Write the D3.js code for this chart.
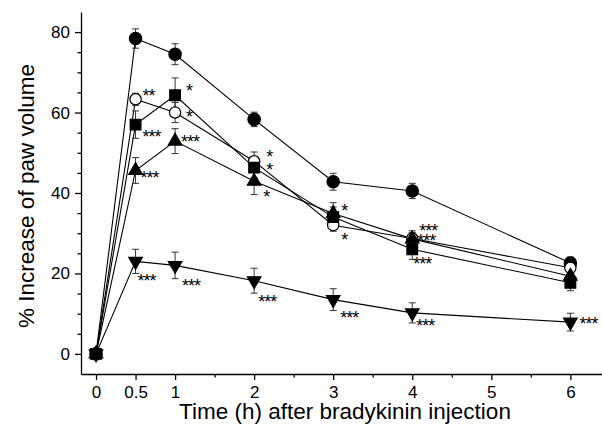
<!DOCTYPE html>
<html>
<head>
<meta charset="utf-8">
<script src="https://cdn.jsdelivr.net/npm/d3@7"></script>
<style>
  body { margin: 0; background: #fff; }
  svg { display: block; font-family: Arial, "Liberation Sans", sans-serif; }
</style>
</head>
<body>
<svg id="chart" width="602" height="433"></svg>
<script>
// time points (h)
var times = [0, 0.5, 1, 2, 3, 4, 6];

// mean % increase of paw volume per group
var filledCircleVals = [0, 78.4, 74.5, 58.3, 42.8, 40.5, 22.6];
var openCircleVals   = [0, 63.3, 60.0, 47.9, 32.0, 28.7, 21.4];
var squareVals       = [0, 57.0, 64.3, 46.3, 34.0, 26.0, 17.7];
var triangleUpVals   = [0, 45.6, 52.9, 42.9, 34.9, 28.6, 19.3];
var triangleDownVals = [0, 23.0, 22.0, 18.2, 13.5, 10.2, 7.9];

// error (SEM)
var filledCircleErr = [0, 2.4, 2.6, 1.8, 2.1, 1.9, 1.5];
var openCircleErr   = [0, 1.5, 2.5, 2.3, 1.5, 1.5, 1.2];
var squareErr       = [0, 3.4, 4.3, 2.5, 2.5, 2.5, 2.0];
var triangleUpErr   = [0, 3.2, 3.1, 3.3, 2.7, 2.0, 1.5];
var triangleDownErr = [0, 3.0, 3.3, 3.1, 2.7, 2.5, 2.2];

// significance marks per group and time
var openCircleStars   = ["", "**", "*", "*", "*", "***", ""];
var squareStars       = ["", "***", "*", "*", "", "***", ""];
var triangleUpStars   = ["", "***", "***", "*", "*", "***", ""];
var triangleDownStars = ["", "***", "***", "***", "***", "***", "***"];

// axis ticks
var xMajorTicks = [0, 0.5, 1, 2, 3, 4, 5, 6];
var xMinorTicks = [1.5, 2.5, 3.5, 4.5, 5.5];
var yMajorTicks = [0, 20, 40, 60, 80];
var yMinorTicks = [5, 10, 15, 25, 30, 35, 45, 50, 55, 65, 70, 75];

function drawChart() {
    var svg = d3.select("#chart");

    var x = d3.scaleLinear().domain([-0.19, 6.4]).range([81, 602]);
    var y = d3.scaleLinear().domain([-5, 85]).range([374, 12]);

    // axes
    svg.append("g")
        .attr("transform", "translate(0,374)")
        .call(d3.axisBottom(x).tickValues(xMinorTicks).tickSize(3.5).tickSizeOuter(0).tickFormat(""))
        .call(g => g.select(".domain").remove());
    var xAxis = svg.append("g")
        .attr("transform", "translate(0,374)")
        .call(d3.axisBottom(x).tickValues(xMajorTicks).tickSize(6).tickSizeOuter(0).tickPadding(6)
            .tickFormat(d => d === 0.5 ? "0.5" : d3.format("d")(d)));
    xAxis.selectAll("text").attr("font-size", 17).attr("fill", "#000").attr("font-family", "Arial, 'Liberation Sans', sans-serif");

    svg.append("g")
        .attr("transform", "translate(81,0)")
        .call(d3.axisLeft(y).tickValues(yMinorTicks).tickSize(3.5).tickSizeOuter(0).tickFormat(""))
        .call(g => g.select(".domain").remove());
    var yAxis = svg.append("g")
        .attr("transform", "translate(81,0)")
        .call(d3.axisLeft(y).tickValues(yMajorTicks).tickSize(6).tickSizeOuter(0).tickPadding(5));
    yAxis.selectAll("text").attr("font-size", 17).attr("fill", "#000").attr("font-family", "Arial, 'Liberation Sans', sans-serif");

    svg.selectAll(".domain, .tick line").attr("stroke", "#000").attr("stroke-width", 1.3);

    // axis titles
    svg.append("text")
        .attr("x", 345).attr("y", 419)
        .attr("text-anchor", "middle")
        .attr("font-size", 22.5)
        .text("Time (h) after bradykinin injection");
    svg.append("text")
        .attr("transform", "translate(34,196) rotate(-90)")
        .attr("text-anchor", "middle")
        .attr("font-size", 22.5)
        .text("% Increase of paw volume");

    var series = [
        {vals: filledCircleVals, err: filledCircleErr, stars: null, sym: d3.symbolCircle, size: 120, fill: "#000", rot: 0},
        {vals: openCircleVals, err: openCircleErr, stars: openCircleStars, sym: d3.symbolCircle, size: 100, fill: "#fff", rot: 0},
        {vals: squareVals, err: squareErr, stars: squareStars, sym: d3.symbolSquare, size: 115, fill: "#000", rot: 0},
        {vals: triangleUpVals, err: triangleUpErr, stars: triangleUpStars, sym: d3.symbolTriangle, size: 80, fill: "#000", rot: 0},
        {vals: triangleDownVals, err: triangleDownErr, stars: triangleDownStars, sym: d3.symbolTriangle, size: 80, fill: "#000", rot: 180}
    ];

    // star label offsets (dx, dy to visual centre) per group, per time
    var starOffsets = [
        null,
        [null, [7, -7], [11, 0], [12, -8], [8, 11], [5, -1], null],
        [null, [7, 8], [11, -8], [12, -2], null, [1, 11], null],
        [null, [5, 4], [6, -3], [9, 12], [8, -7], [7, -12], null],
        [null, [2, 16], [7, 17], [4, 17], [7, 14], [4, 9], [9, -2]]
    ];

    var line = d3.line().x((d, i) => x(times[i])).y(d => y(d));

    series.forEach(s => {
        svg.append("path")
            .attr("d", line(s.vals))
            .attr("fill", "none")
            .attr("stroke", "#000")
            .attr("stroke-width", 1.1);
    });

    series.forEach(s => {
        var g = svg.append("g").attr("stroke", "#333").attr("stroke-width", 1);
        times.forEach((t, i) => {
            if (!s.err[i]) return;
            var cx = x(t);
            var top = y(s.vals[i] + s.err[i]);
            var bot = y(s.vals[i] - s.err[i]);
            g.append("line").attr("x1", cx).attr("x2", cx).attr("y1", top).attr("y2", bot);
            g.append("line").attr("x1", cx - 3.5).attr("x2", cx + 3.5).attr("y1", top).attr("y2", top);
            g.append("line").attr("x1", cx - 3.5).attr("x2", cx + 3.5).attr("y1", bot).attr("y2", bot);
        });
    });

    series.forEach(s => {
        svg.append("g")
            .selectAll("path")
            .data(s.vals)
            .enter()
            .append("path")
            .attr("d", d3.symbol().type(s.sym).size(s.size))
            .attr("transform", (d, i) => "translate(" + x(times[i]) + "," + y(d) + ") rotate(" + s.rot + ")")
            .attr("fill", s.fill)
            .attr("stroke", "#000")
            .attr("stroke-width", 1.2);
    });

    series.forEach((s, k) => {
        if (!s.stars) return;
        s.stars.forEach((txt, i) => {
            if (!txt) return;
            var off = starOffsets[k][i];
            svg.append("text")
                .attr("x", x(times[i]) + off[0])
                .attr("y", y(s.vals[i]) + off[1] + 10)
                .attr("font-size", 18)
                .attr("letter-spacing", -1)
                .attr("fill", "#000")
                .text(txt);
        });
    });
}

drawChart();
</script>
</body>
</html>
